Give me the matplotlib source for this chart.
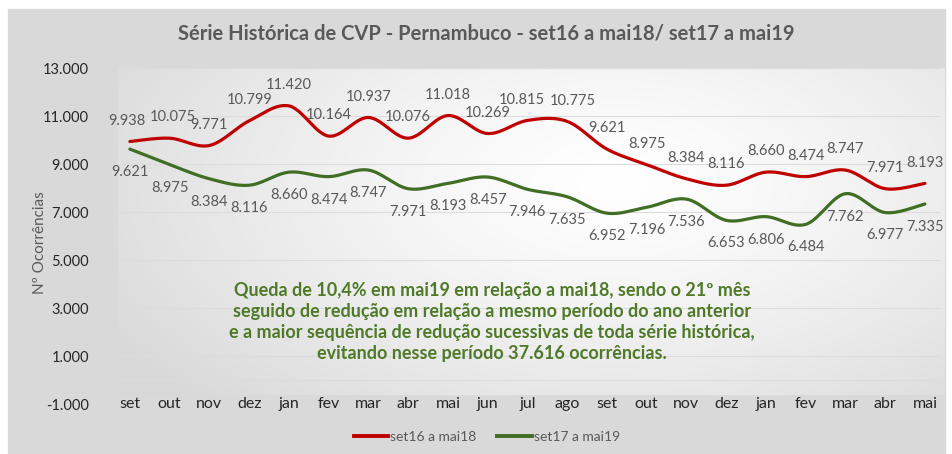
import numpy as np
import matplotlib.pyplot as plt
from matplotlib.patches import Rectangle

plt.rcParams['font.family'] = ['Lato', 'DejaVu Sans']

# dados
meses = ['set', 'out', 'nov', 'dez', 'jan', 'fev', 'mar', 'abr', 'mai', 'jun', 'jul',
         'ago', 'set', 'out', 'nov', 'dez', 'jan', 'fev', 'mar', 'abr', 'mai']
serie_16_18 = [9938, 10075, 9771, 10799, 11420, 10164, 10937, 10076, 11018, 10269, 10815,
               10775, 9621, 8975, 8384, 8116, 8660, 8474, 8747, 7971, 8193]
serie_17_19 = [9621, 8975, 8384, 8116, 8660, 8474, 8747, 7971, 8193, 8457, 7946,
               7635, 6952, 7196, 7536, 6653, 6806, 6484, 7762, 6977, 7335]
nomes = ['set16 a mai18', 'set17 a mai19']
yticks = [-1000, 1000, 3000, 5000, 7000, 9000, 11000, 13000]

W, H = 952, 454
RED = '#C00000'
GREEN = '#3F6E24'
GRAY = '#595959'

# pequenos deslocamentos horizontais dos rótulos (pontos) para não encostarem
desloc_red = {0: -2, 1: 2, 10: -4, 11: 4}


def fmt(v):
    return f'{v:,}'.replace(',', '.')


def smooth(y, n=30):
    # curva suavizada tipo Excel (Catmull-Rom / Bezier)
    p = np.column_stack([np.arange(len(y)), np.asarray(y, float)])
    xs, ys = [], []
    t = np.linspace(0, 1, n)[:, None]
    for i in range(len(p) - 1):
        p0 = p[max(i - 1, 0)]
        p1, p2 = p[i], p[i + 1]
        p3 = p[min(i + 2, len(p) - 1)]
        c1 = p1 + (p2 - p0) / 6
        c2 = p2 - (p3 - p1) / 6
        b = ((1 - t) ** 3) * p1 + 3 * ((1 - t) ** 2) * t * c1 + 3 * (1 - t) * t ** 2 * c2 + t ** 3 * p2
        xs.append(b[:, 0]); ys.append(b[:, 1])
    return np.concatenate(xs), np.concatenate(ys)


fig = plt.figure(figsize=(W / 100, H / 100), dpi=100)
fig.patch.set_facecolor('white')

# fundo do grafico
fig.patches.append(Rectangle((8 / W, 1 - 453 / H), 937 / W, 444 / H,
                             transform=fig.transFigure, color='#d9d9d9', zorder=-10))
bg = fig.add_axes([118 / W, 1 - 395 / H, 827 / W, 327 / H], zorder=-5)
gx, gy = np.meshgrid(np.linspace(0, 1, 300), np.linspace(0, 1, 150))
r = np.sqrt(((gx - 0.6) / 0.75) ** 2 + ((gy - 0.35) / 1.0) ** 2)
g = np.clip(1 - 0.16 * r ** 1.3, 0.85, 1)
bg.imshow(np.dstack([g, g, g]), aspect='auto', extent=[0, 1, 0, 1], origin='upper')
bg.axis('off')

ax = fig.add_axes([118 / W, 1 - 404 / H, 822 / W, 336 / H])
ax.patch.set_alpha(0)
ax.set_xlim(-0.3, 20.38)
ax.set_ylim(-1000, 13000)

for yv in [1000, 3000, 5000, 7000, 9000, 11000, 13000, 0]:
    ax.axhline(yv, color='#dcdcdc', lw=0.8, zorder=1)

for serie, cor in [(serie_16_18, RED), (serie_17_19, GREEN)]:
    sx, sy = smooth(serie)
    ax.plot(sx, sy, color=cor, lw=2.3, zorder=3, solid_capstyle='round')

for i, v in enumerate(serie_16_18):
    ax.annotate(fmt(v), (i, v), xytext=(desloc_red.get(i, 0), 15), textcoords='offset points',
                ha='center', va='center', fontsize=10.5, color=GRAY)
for i, v in enumerate(serie_17_19):
    ax.annotate(fmt(v), (i, v), xytext=(0, -16.5), textcoords='offset points',
                ha='center', va='center', fontsize=10.5, color=GRAY)

ax.set_xticks(range(len(meses)))
ax.set_xticklabels(meses, fontsize=11.5, color='#262626')
ax.tick_params(axis='x', length=0, pad=-5)
ax.set_yticks(yticks)
ax.set_yticklabels([fmt(v) for v in yticks], fontsize=10.5, color='#262626')
ax.tick_params(axis='y', length=0, pad=21)
for s in ax.spines.values():
    s.set_visible(False)

fig.text(40 / W, 1 - 243 / H, 'Nº Ocorrências', rotation=90, ha='center', va='center',
         fontsize=11, color=GRAY)

fig.text(486 / W, 1 - 33 / H, 'Série Histórica de CVP - Pernambuco - set16 a mai18/ set17 a mai19',
         ha='center', va='center', fontsize=14.5, fontweight='bold', color=GRAY)

texto = ('Queda de 10,4% em mai19 em relação a mai18, sendo o 21º mês\n'
         'seguido de redução em relação a mesmo período do ano anterior\n'
         'e a maior sequência de redução sucessivas de toda série histórica,\n'
         'evitando nesse período 37.616 ocorrências.')
fig.text(492 / W, 1 - 322 / H, texto, ha='center', va='center', fontsize=13,
         fontweight='bold', color='#4E7A27', linespacing=1.3)

linhas = [plt.Line2D([], [], color=RED, lw=2.8), plt.Line2D([], [], color=GREEN, lw=2.8)]
fig.legend(linhas, nomes, loc='center', bbox_to_anchor=(487 / W, 1 - 437 / H), ncol=2,
           frameon=False, fontsize=10, labelcolor=GRAY, handlelength=2.5,
           handletextpad=0.15, columnspacing=1.5)

fig.savefig('out.png', dpi=100, facecolor=fig.get_facecolor())
